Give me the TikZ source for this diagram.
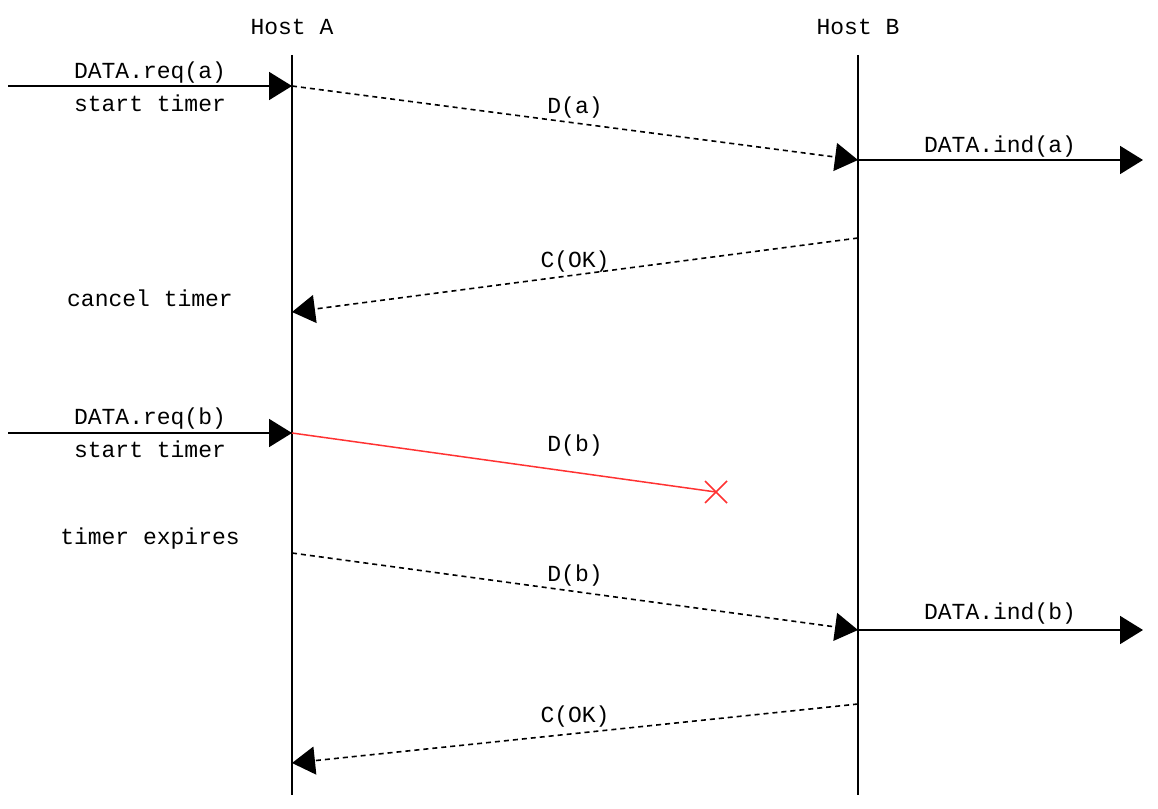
\documentclass[tikz,border=0pt]{standalone}
\usepackage{fontspec}
\setmainfont{Liberation Mono}
\usetikzlibrary{arrows.meta}
\begin{document}
\begin{tikzpicture}[x=1pt,y=-1pt,
  lbl/.style={font=\fontsize{23}{23}\selectfont, inner sep=0pt},
  life/.style={line width=1.8pt},
  msg/.style={line width=1.8pt, -{Triangle[length=23pt,width=28pt]}},
  dmsg/.style={line width=1.6pt, dash pattern=on 5pt off 4pt, -{Triangle[length=23pt,width=28pt]}},
  lost/.style={line width=1.5pt, draw={rgb,255:red,255;green,50;blue,50}}]
\useasboundingbox (0,0) rectangle (1158,808);
% lifelines
\node[lbl] (hA) at (292,27) {Host A};
\node[lbl] (hB) at (858,27) {Host B};
\coordinate (atop) at (292,55); \coordinate (abot) at (292,795);
\coordinate (btop) at (858,55); \coordinate (bbot) at (858,795);
\draw[life] (atop) -- (abot);
\draw[life] (btop) -- (bbot);
% points
\coordinate (in1) at (8,86);   \coordinate (a1) at (292,86);
\coordinate (b1) at (858,160); \coordinate (out1) at (1143,160);
\coordinate (b2) at (858,238); \coordinate (a2) at (292,312);
\coordinate (in2) at (8,433);  \coordinate (a3) at (292,433);
\coordinate (x1) at (716,492);
\coordinate (a4) at (292,553); \coordinate (b3) at (858,630);
\coordinate (out2) at (1143,630);
\coordinate (b4) at (858,704); \coordinate (a5) at (292,763);
% messages
\draw[msg] (in1) -- (a1);
\node[lbl] (l1) at (150,73) {DATA.req(a)};
\node[lbl] (l2) at (150,103) {start timer};
\draw[dmsg] (a1) -- (b1);
\node[lbl] (l3) at (575,108) {D(a)};
\draw[msg] (b1) -- (out1);
\node[lbl] (l4) at (1000,147) {DATA.ind(a)};
\draw[dmsg] (b2) -- (a2);
\node[lbl] (l5) at (575,262) {C(OK)};
\node[lbl] (l6) at (150,298) {cancel timer};
\draw[msg] (in2) -- (a3);
\node[lbl] (l7) at (150,419) {DATA.req(b)};
\node[lbl] (l8) at (150,449) {start timer};
\draw[lost] (a3) -- (x1);
\draw[lost] ([shift={(-11,-11)}]x1) -- ([shift={(11,11)}]x1);
\draw[lost] ([shift={(-11,11)}]x1) -- ([shift={(11,-11)}]x1);
\node[lbl] (l9) at (575,446) {D(b)};
\node[lbl] (l10) at (150,539) {timer expires};
\draw[dmsg] (a4) -- (b3);
\node[lbl] (l11) at (575,576) {D(b)};
\draw[msg] (b3) -- (out2);
\node[lbl] (l12) at (1000,614) {DATA.ind(b)};
\draw[dmsg] (b4) -- (a5);
\node[lbl] (l13) at (575,717) {C(OK)};
\end{tikzpicture}
\end{document}
